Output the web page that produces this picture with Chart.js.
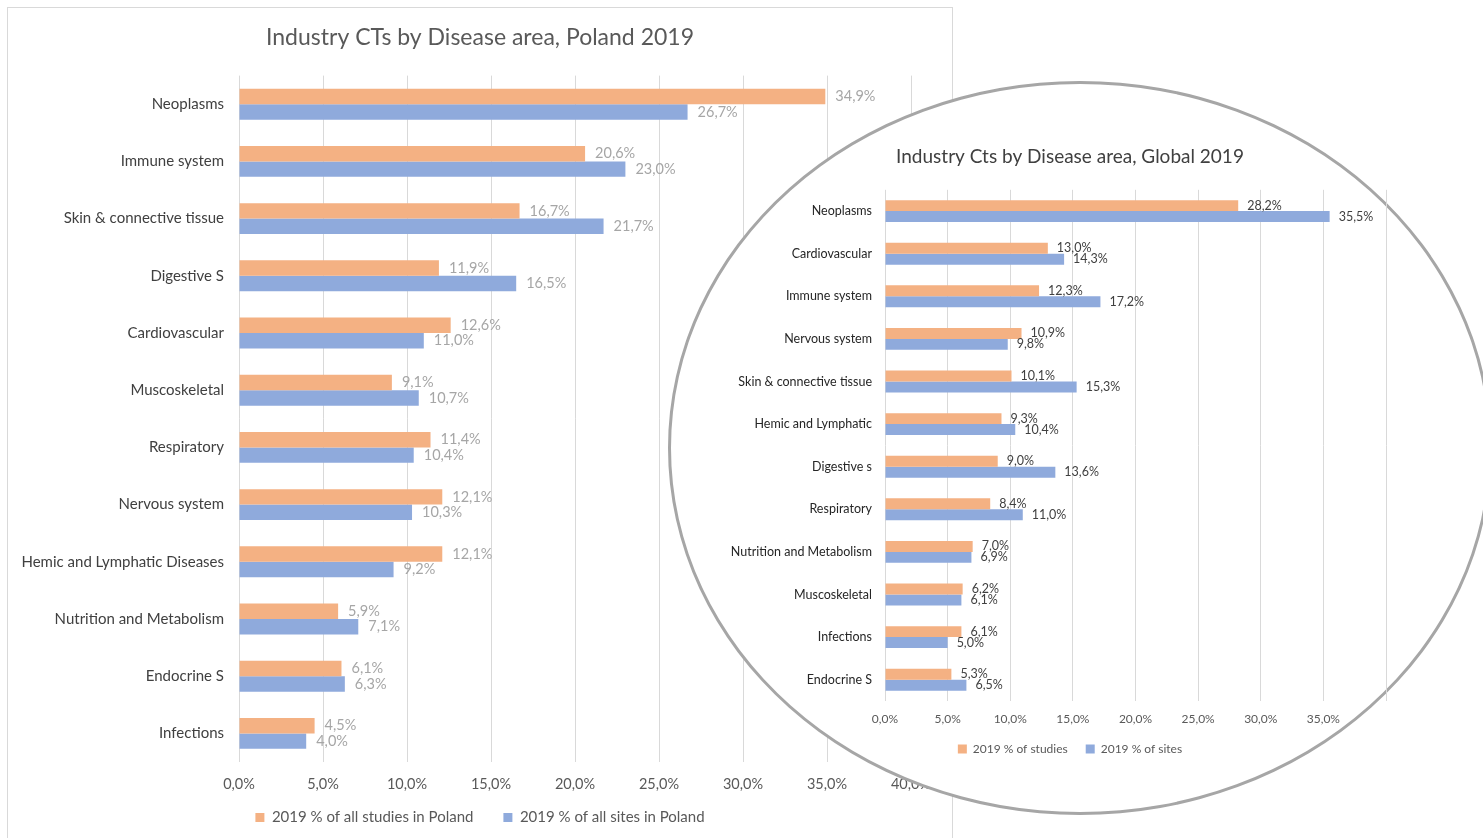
<!DOCTYPE html>
<html>
<head>
<meta charset="utf-8">
<script src="https://cdn.jsdelivr.net/npm/chart.js@4.4.0/dist/chart.umd.min.js"></script>
<style>
  html, body { margin: 0; padding: 0; background: #fff; overflow: hidden; width: 1483px; height: 838px; }
  #panel { position: absolute; left: 7px; top: 7px; width: 944px; height: 845px; border: 1px solid #d9d9d9; overflow: hidden; }
  #poland { position: absolute; left: 0; top: 0; }
  #ring { position: absolute; left: 668px; top: 81px; width: 824px; height: 734px; border: 3px solid #a6a6a6; border-radius: 50%; background: #fff; box-sizing: border-box; }
  #global { position: absolute; left: 700px; top: 130px; }
</style>
</head>
<body>
<div id="panel"><canvas id="poland" width="944" height="827"></canvas></div>
<div id="ring"></div>
<canvas id="global" width="740" height="635"></canvas>
<script>
const PL_CATEGORIES = ['Neoplasms', 'Immune system', 'Skin & connective tissue', 'Digestive S', 'Cardiovascular',
  'Muscoskeletal', 'Respiratory', 'Nervous system', 'Hemic and Lymphatic Diseases', 'Nutrition and Metabolism',
  'Endocrine S', 'Infections'];
const PL_STUDIES = [34.9, 20.6, 16.7, 11.9, 12.6, 9.1, 11.4, 12.1, 12.1, 5.9, 6.1, 4.5];
const PL_SITES = [26.7, 23.0, 21.7, 16.5, 11.0, 10.7, 10.4, 10.3, 9.2, 7.1, 6.3, 4.0];
const PL_TICKS = ['0,0%', '5,0%', '10,0%', '15,0%', '20,0%', '25,0%', '30,0%', '35,0%', '40,0%'];

const GL_CATEGORIES = ['Neoplasms', 'Cardiovascular', 'Immune system', 'Nervous system', 'Skin & connective tissue',
  'Hemic and Lymphatic', 'Digestive s', 'Respiratory', 'Nutrition and Metabolism', 'Muscoskeletal',
  'Infections', 'Endocrine S'];
const GL_STUDIES = [28.2, 13.0, 12.3, 10.9, 10.1, 9.3, 9.0, 8.4, 7.0, 6.2, 6.1, 5.3];
const GL_SITES = [35.5, 14.3, 17.2, 9.8, 15.3, 10.4, 13.6, 11.0, 6.9, 6.1, 5.0, 6.5];
const GL_TICKS = ['0,0%', '5,0%', '10,0%', '15,0%', '20,0%', '25,0%', '30,0%', '35,0%', ''];

const ORANGE = '#f4b183';
const BLUE = '#8faadc';
const FONT = 'Lato, "Liberation Sans", sans-serif';

const fmt = (v) => v.toFixed(1).replace('.', ',') + '%';

// values written just after the end of each bar
const valueLabels = {
  id: 'valueLabels',
  afterDatasetsDraw(chart, args, opts) {
    const { ctx } = chart;
    ctx.save();
    ctx.font = opts.size + 'px ' + FONT;
    ctx.fillStyle = opts.color;
    ctx.textAlign = 'left';
    ctx.textBaseline = 'middle';
    chart.data.datasets.forEach((ds, di) => {
      chart.getDatasetMeta(di).data.forEach((bar, i) => {
        ctx.fillText(fmt(ds.data[i]), bar.x + opts.gap, bar.y);
      });
    });
    ctx.restore();
  }
};

// axis labels may spill outside their own box (long category names, tick row)
const noLabelClip = (s) => { s._computeLabelArea = () => undefined; };

function buildConfig(c) {
  return {
    type: 'bar',
    data: {
      labels: c.categories,
      datasets: [
        { label: c.names[0], data: c.studies, backgroundColor: ORANGE, borderWidth: 0 },
        { label: c.names[1], data: c.sites, backgroundColor: BLUE, borderWidth: 0 }
      ]
    },
    options: {
      indexAxis: 'y',
      responsive: false,
      animation: false,
      devicePixelRatio: 1,
      categoryPercentage: c.catPct,
      barPercentage: 1,
      layout: { padding: { left: c.pad, right: c.pad, top: 0, bottom: 0 } },
      plugins: {
        title: {
          display: true,
          text: c.title,
          color: c.titleColor,
          font: { family: FONT, size: c.titleSize, weight: 'normal' },
          padding: c.titlePad
        },
        legend: {
          position: 'bottom',
          labels: {
            boxWidth: 9, boxHeight: 9, padding: c.legendPad,
            color: '#595959',
            font: { family: FONT, size: c.legendSize }
          }
        },
        tooltip: { enabled: false },
        valueLabels: { size: c.valueSize, color: c.valueColor, gap: c.valueGap }
      },
      scales: {
        x: {
          min: 0, max: 40,
          ticks: {
            stepSize: 5, padding: c.tickPad, color: '#595959',
            font: { family: FONT, size: c.tickSize },
            callback: (v, i) => c.ticks[i]
          },
          grid: { color: '#d9d9d9', drawTicks: false },
          border: { display: false },
          afterFit: (s) => { s.height = c.xHeight; noLabelClip(s); }
        },
        y: {
          ticks: {
            autoSkip: false, padding: c.catPad, color: c.catColor,
            font: { family: FONT, size: c.catSize }
          },
          grid: { display: false, drawTicks: false },
          border: { display: false },
          afterFit: (s) => { s.width = c.yWidth; noLabelClip(s); }
        }
      }
    },
    plugins: [valueLabels]
  };
}

new Chart(document.getElementById('poland'), buildConfig({
  categories: PL_CATEGORIES, studies: PL_STUDIES, sites: PL_SITES, ticks: PL_TICKS,
  names: ['2019 % of all studies in Poland', '2019 % of all sites in Poland'],
  title: 'Industry CTs by Disease area, Poland 2019', titleColor: '#595959', titleSize: 23,
  titlePad: { top: 16, bottom: 24 },
  catPct: 0.54, pad: 41, yWidth: 190, xHeight: 18,
  tickPad: 14, tickSize: 14.5, catPad: 15, catSize: 15, catColor: '#404040',
  legendPad: 30, legendSize: 15,
  valueSize: 14.5, valueColor: '#a6a6a6', valueGap: 10
}));

new Chart(document.getElementById('global'), buildConfig({
  categories: GL_CATEGORIES, studies: GL_STUDIES, sites: GL_SITES, ticks: GL_TICKS,
  names: ['2019 % of studies', '2019 % of sites'],
  title: 'Industry Cts by Disease area, Global 2019', titleColor: '#404040', titleSize: 19,
  titlePad: { top: 15, bottom: 22 },
  catPct: 0.515, pad: 54, yWidth: 131, xHeight: 24,
  tickPad: 11, tickSize: 12, catPad: 13, catSize: 12.5, catColor: '#262626',
  legendPad: 18, legendSize: 12,
  valueSize: 12.5, valueColor: '#404040', valueGap: 9
}));
</script>
</body>
</html>
